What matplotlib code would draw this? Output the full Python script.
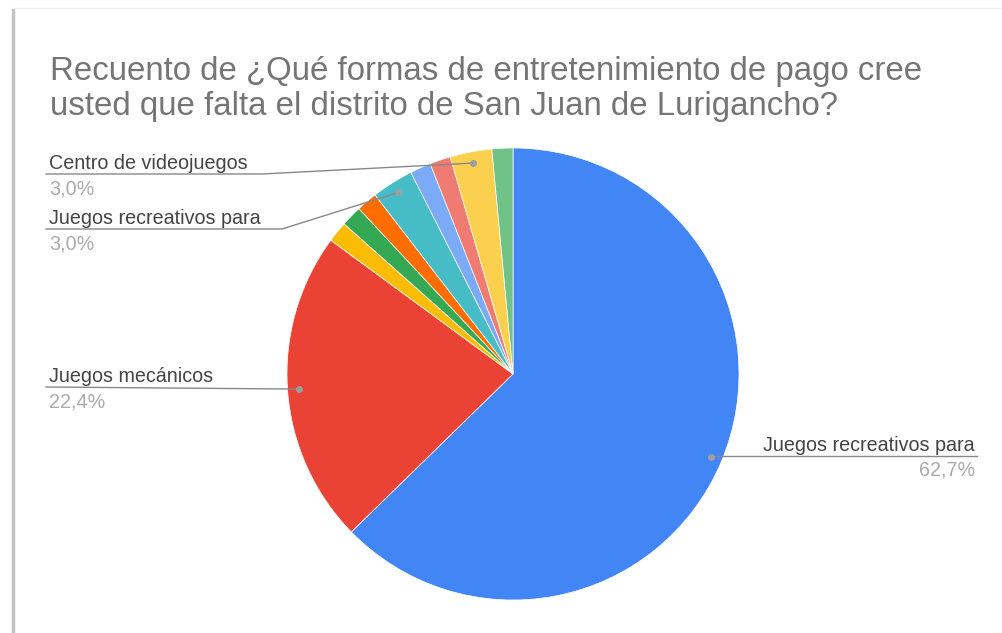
import numpy as np
import matplotlib.pyplot as plt

# Respuestas (conteos) en el orden de las porciones, sentido horario desde arriba
categories = [
    "Juegos recreativos para",
    "Juegos mecánicos",
    "Otro 1",
    "Otro 2",
    "Otro 3",
    "Juegos recreativos para",
    "Otro 4",
    "Otro 5",
    "Centro de videojuegos",
    "Otro 6",
]
counts = [42, 15, 1, 1, 1, 2, 1, 1, 2, 1]
show_label = [True, True, False, False, False, True, False, False, True, False]
colors = ["#4285F4", "#EA4335", "#FBBC04", "#34A853", "#FF6D01",
          "#46BDC6", "#7BAAF7", "#F07B72", "#FCD04F", "#71C287"]

title_lines = ["Recuento de ¿Qué formas de entretenimiento de pago cree",
               "usted que falta el distrito de San Juan de Lurigancho?"]

W, H = 1003, 633
plt.rcParams["font.family"] = ["Liberation Sans", "DejaVu Sans"]

fig = plt.figure(figsize=(W / 100, H / 100), dpi=100)
ax = fig.add_axes([0, 0, 1, 1])

cx, cy, r = 513, H - 374, 226
wedges, _ = ax.pie(counts, colors=colors, startangle=90, counterclock=False,
                   center=(cx, cy), radius=r, frame=True,
                   wedgeprops=dict(linewidth=0.5, edgecolor="white"))
ax.set_xlim(0, W)
ax.set_ylim(0, H)
ax.set_aspect("equal")
ax.axis("off")

# frame of the screenshot
ax.plot([13, 13], [0, H - 10], color="#c4c4c4", lw=2.5)
ax.plot([13, W], [H - 8, H - 8], color="#eeeeee", lw=1)

for k, line in enumerate(title_lines):
    ax.text(50, H - 80 - 35 * k, line, fontsize=23.8, color="#757575",
            ha="left", va="baseline")

total = sum(counts)
# label placement: (text x, underline y in pixels, side, bend x)
label_layout = {
    8: (49, 174, "left", 262),
    5: (49, 229, "left", 282),
    1: (49, 387, "left", None),
    0: (975, 456, "right", None),
}

fs = 14.2
for i, w in enumerate(wedges):
    if not show_label[i]:
        continue
    ang = np.deg2rad((w.theta1 + w.theta2) / 2)
    px = cx + 0.95 * r * np.cos(ang)
    py = cy + 0.95 * r * np.sin(ang)
    tx, uy, side, bend = label_layout[i]
    uy = H - uy
    pct = f"{100 * counts[i] / total:.1f}%".replace(".", ",")
    ha = "left" if side == "left" else "right"
    if side == "left":
        if bend is None:
            ax.plot([tx - 3, px], [uy, py], color="#888888", lw=1)
        else:
            ax.plot([tx - 3, bend, px], [uy, uy, py], color="#888888", lw=1)
    else:
        ax.plot([px, tx + 2], [uy, uy], color="#888888", lw=1)
    ax.text(tx, uy + 5, categories[i], fontsize=fs, color="#444444",
            ha=ha, va="baseline")
    ax.text(tx, uy - 5, pct, fontsize=fs, color="#ababab",
            ha=ha, va="top")
    ax.plot(px, py, "o", ms=4, color="#9e9e9e", mec="#9e9e9e")

fig.savefig("out.png", dpi=100)
